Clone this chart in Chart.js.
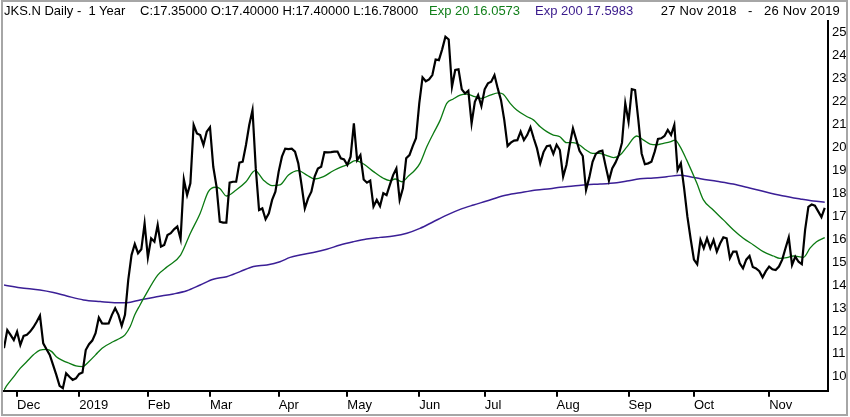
<!DOCTYPE html>
<html>
<head>
<meta charset="utf-8">
<script src="https://cdn.jsdelivr.net/npm/chart.js@4.4.0/dist/chart.umd.min.js"></script>
<style>
  html, body { margin: 0; padding: 0; background: #fff; }
  #wrap { position: relative; width: 850px; height: 417px; overflow: hidden; }
  #chart { position: absolute; left: 0; top: 0; }
  #frame { position: absolute; left: 1px; top: 0; width: 847px; height: 416px; box-sizing: border-box; border: 2px solid #a6a6a6; pointer-events: none; }
  .hdr { position: absolute; top: 3px; font: 13px "Liberation Sans", Arial, sans-serif; line-height: 16px; white-space: nowrap; color: #000; }
</style>
</head>
<body>
<div id="wrap">
  <canvas id="chart" width="850" height="417"></canvas>
  <div class="hdr" style="left:4px">JKS.N Daily - &nbsp;1 Year</div>
  <div class="hdr" style="left:140px">C:17.35000 O:17.40000 H:17.40000 L:16.78000</div>
  <div class="hdr" style="left:429px;color:#117f1a">Exp 20 16.0573</div>
  <div class="hdr" style="left:535px;color:#3a1a8c">Exp 200 17.5983</div>
  <div class="hdr" style="right:10px;letter-spacing:0.2px">27 Nov 2018 &nbsp;&nbsp;- &nbsp;&nbsp;26 Nov 2019</div>
  <div id="frame"></div>
</div>
<script>
// month ticks (trading-day index where each month starts)
const monthTickIdx = [4, 23, 44, 63, 84, 105, 127, 147, 169, 191, 211, 234];
const monthTickLabels = ['Dec', '2019', 'Feb', 'Mar', 'Apr', 'May', 'Jun', 'Jul', 'Aug', 'Sep', 'Oct', 'Nov'];
const priceTicks = [10, 11, 12, 13, 14, 15, 16, 17, 18, 19, 20, 21, 22, 23, 24, 25];

// daily close, 27 Nov 2018 .. 26 Nov 2019 (one value per trading day)
const closeValues = [
    11.25, 12.04, 11.83, 11.6, 11.97, 11.39, 11.78, 11.83, 11.97, 12.16,
    12.4, 12.67, 11.46, 11.2, 10.96, 10.52, 10.09, 9.61, 9.51, 10.16,
    10.01, 9.87, 9.94, 10.13, 10.19, 11.17, 11.42, 11.58, 11.9, 12.58,
    12.33, 12.32, 12.33, 12.7, 12.99, 12.7, 12.22, 12.7, 14.22, 15.3,
    15.78, 15.38, 15.55, 16.68, 15.2, 16.03, 15.88, 16.61, 15.67, 15.74,
    16.17, 16.25, 16.42, 16.54, 16.0, 18.59, 17.91, 18.42, 20.96, 20.59,
    20.52, 20.09, 20.67, 20.86, 19.14, 18.28, 16.75, 16.71, 16.71, 18.45,
    18.49, 18.49, 19.32, 19.36, 20.09, 20.96, 21.61, 19.07, 17.26, 17.33,
    16.86, 17.12, 17.7, 18.06, 18.93, 19.58, 19.93, 19.91, 19.93, 19.8,
    19.29, 18.35, 17.33, 17.77, 18.06, 18.71, 19.06, 19.14, 19.78, 19.77,
    19.78, 19.8, 19.8, 19.51, 19.46, 19.22, 19.58, 21.03, 19.43, 19.65,
    18.59, 18.45, 18.54, 17.41, 17.7, 17.43, 17.99, 17.91, 18.35, 18.78,
    19.07, 17.7, 18.2, 19.51, 19.65, 20.04, 20.38, 21.9, 23.03, 22.86,
    22.94, 23.13, 23.81, 23.78, 24.25, 24.8, 24.68, 22.62, 23.35, 23.38,
    22.51, 22.33, 22.45, 21.03, 21.97, 22.26, 21.78, 22.51, 22.77, 22.84,
    23.13, 22.55, 22.04, 21.17, 20.04, 20.19, 20.28, 20.3, 20.67, 20.3,
    20.52, 20.86, 20.38, 19.94, 19.29, 19.78, 20.04, 20.07, 19.7, 20.1,
    19.87, 18.71, 19.22, 20.09, 20.81, 20.33, 19.84, 19.61, 18.13, 18.68,
    19.36, 19.7, 19.8, 19.84, 19.17, 18.54, 19.07, 19.32, 19.65, 20.19,
    21.9, 21.1, 22.52, 22.48, 21.17, 19.72, 19.25, 19.29, 19.36, 19.8,
    20.35, 20.38, 20.48, 20.74, 20.52, 20.96, 19.0, 19.29, 18.2, 16.97,
    16.0, 15.1, 14.9, 15.96, 15.6, 16.03, 15.6, 15.96, 15.45, 15.8,
    16.07, 16.03, 15.16, 15.45, 15.45, 14.94, 14.72, 15.1, 15.26, 14.78,
    14.72, 14.6, 14.33, 14.6, 14.8, 14.68, 14.65, 14.8, 15.1, 15.6,
    16.07, 14.87, 15.23, 15.01, 14.9, 16.4, 17.4, 17.5, 17.45, 17.2,
    16.95, 17.35
];

// Exp 20
const ema20Days = [0, 1, 3, 5, 7, 9, 11, 13, 14.6, 16, 18, 20, 22, 24, 26, 28, 30, 33.5, 35.5, 37, 38.6, 40, 41.6,
    43, 47, 50, 54, 57, 60, 62.5, 64.6, 66, 68, 71, 74, 76.8, 79.3, 82, 84.4,
    87, 90, 92.6, 95, 97.7, 100.7, 103.8, 105.3, 107.4, 110, 113, 116, 118, 119.6, 121.7, 123.7, 125.7, 127.2,
    129.3, 131.3, 133.4, 135.4, 137.4, 139.5, 141.5, 144, 146, 148.7, 151.2, 152.7, 154.8, 156.8, 160, 162, 164, 166, 168, 170,
    172, 174, 176, 178, 180, 182, 184, 186.4, 188.4, 190.5, 193.5, 195.6, 197.6, 199.6, 201.7, 203.7, 205.2, 206.8, 208.8,
    211.9, 213.9, 216.9, 220, 223.1, 226.1, 229.2, 232.2, 235.3, 237.3, 239.4, 241.4, 244.5, 246.5, 248.5, 251];
const ema20Values = [9.43, 9.65, 10.01, 10.38, 10.67, 10.96, 11.17, 11.2, 11.1, 10.88, 10.71, 10.59, 10.48, 10.45, 10.67, 10.96, 11.25, 11.54, 11.68, 11.83, 12.19, 12.7, 13.13,
    13.49, 14.43, 14.8, 15.3, 16.25, 17.12, 18.06, 18.25, 18.2, 17.87, 18.13, 18.49, 18.97, 18.57, 18.32, 18.35,
    18.78, 18.97, 18.78, 18.61, 18.71, 18.97, 19.17, 19.25, 19.41, 19.26, 18.93, 18.64, 18.54, 18.61, 18.49, 18.74, 19.0, 19.29,
    20.01, 20.59, 21.17, 21.9, 22.09, 22.26, 22.3, 22.19, 22.12, 22.26, 22.36, 22.3, 21.9, 21.61, 21.32, 21.17, 20.88, 20.67, 20.52, 20.45,
    20.19, 20.19, 20.09, 19.87, 19.72, 19.72, 19.65, 19.54, 19.65, 20.01, 20.48, 20.3, 20.13, 20.1, 20.16, 20.22, 20.3, 20.01, 19.43,
    18.42, 17.7, 17.26, 16.83, 16.39, 16.03, 15.74, 15.45, 15.26, 15.16, 15.19, 15.26, 15.2, 15.6, 15.88, 16.06];

// Exp 200
const ema200Days = [0, 4.9, 11, 15.1, 19.2, 24.3, 29.4, 34.5, 37.6, 41.6, 46.7, 51.8, 55.9, 60, 64, 68.1, 72.2, 76.3, 80.4, 84.4,
    87.5, 90.5, 94.6, 98.7, 102.8, 106.8, 110.9, 115, 119.1, 123.2, 127.2, 131.3, 135.4, 139.5, 143.6, 147.6, 152.7, 157.8, 162.9, 167, 170.1,
    174.1, 178.2, 182.3, 187.4, 190.5, 194.5, 198.6, 202.7, 206.8, 209.8, 213, 218, 223, 228, 233, 238, 243.5, 247.5, 251];
const ema200Values = [14.0, 13.88, 13.78, 13.67, 13.52, 13.35, 13.28, 13.23, 13.23, 13.35, 13.49, 13.61, 13.75, 14.0, 14.25, 14.36, 14.58, 14.8, 14.87, 15.01,
    15.2, 15.3, 15.41, 15.55, 15.74, 15.88, 16.0, 16.07, 16.13, 16.25, 16.46, 16.75, 17.04, 17.29, 17.48, 17.65, 17.88, 18.01, 18.13, 18.19, 18.25,
    18.3, 18.36, 18.39, 18.45, 18.52, 18.62, 18.65, 18.71, 18.77, 18.71, 18.62, 18.51, 18.39, 18.22, 18.04, 17.88, 17.74, 17.65, 17.6];

const toPoints = (xs, ys) => xs.map((x, i) => ({ x: x, y: ys[i] }));

Chart.defaults.font.family = '"Liberation Sans", Arial, sans-serif';
Chart.defaults.font.size = 13;
Chart.defaults.color = '#000';

const ctx = document.getElementById('chart').getContext('2d');
new Chart(ctx, {
    type: 'line',
    data: {
        datasets: [
            {
                label: 'JKS.N',
                data: closeValues.map((v, i) => ({ x: i, y: v })),
                borderColor: '#000',
                borderWidth: 2.2,
                pointRadius: 0,
                tension: 0
            },
            {
                label: 'Exp 20',
                data: toPoints(ema20Days, ema20Values),
                borderColor: '#0b7a12',
                borderWidth: 1.3,
                pointRadius: 0,
                cubicInterpolationMode: 'monotone'
            },
            {
                label: 'Exp 200',
                data: toPoints(ema200Days, ema200Values),
                borderColor: '#3b1f96',
                borderWidth: 1.5,
                pointRadius: 0,
                cubicInterpolationMode: 'monotone'
            }
        ]
    },
    options: {
        responsive: false,
        animation: false,
        devicePixelRatio: 1,
        layout: {
            padding: { left: 4, top: 20.6, right: 0, bottom: 0 }
        },
        plugins: {
            legend: { display: false },
            tooltip: { enabled: false }
        },
        scales: {
            x: {
                type: 'linear',
                min: 0,
                max: 252,
                afterBuildTicks: (scale) => {
                    scale.ticks = monthTickIdx.map(v => ({ value: v }));
                },
                afterFit: (scale) => { scale.height = 26.3; },
                grid: {
                    drawOnChartArea: false,
                    drawTicks: true,
                    tickLength: 6,
                    color: '#000',
                    lineWidth: 2
                },
                border: { display: true, color: '#000', width: 2 },
                ticks: {
                    autoSkip: false,
                    maxRotation: 0,
                    align: 'start',
                    padding: 1,
                    font: { size: 13 },
                    callback: (value, index) => monthTickLabels[index]
                }
            },
            y: {
                type: 'linear',
                position: 'right',
                min: 9.4,
                max: 25.5,
                afterBuildTicks: (scale) => {
                    scale.ticks = priceTicks.map(v => ({ value: v }));
                },
                afterFit: (scale) => { scale.width = 22; },
                grid: { drawOnChartArea: false, drawTicks: false },
                border: { display: true, color: '#000', width: 2 },
                ticks: {
                    padding: 4,
                    font: { size: 13 },
                    callback: (value) => value
                }
            }
        }
    }
});
</script>
</body>
</html>
